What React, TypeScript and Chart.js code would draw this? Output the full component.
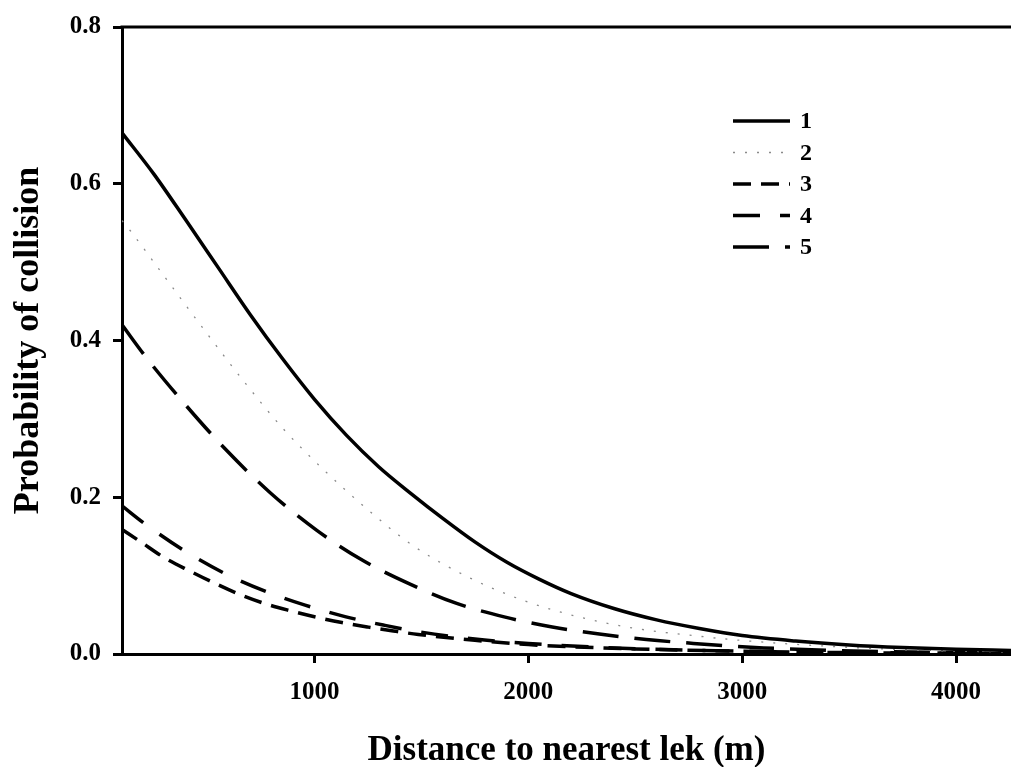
import { useEffect, useRef } from "react";
import { Chart, registerables } from "chart.js";

Chart.register(...registerables);

// Axis ticks
const xTicks = [1000, 2000, 3000, 4000];
const yTicks = [0, 0.2, 0.4, 0.6, 0.8];
const xMin = 100;
const xMax = 4257;

// Series labels
const seriesLabels = ["1", "2", "3", "4", "5"];

// Curve 1 (solid)
const dist1 = [100, 250, 400, 550, 700, 850, 1000, 1150, 1300, 1450, 1600, 1750, 1900, 2050, 2200, 2400, 2600, 2800, 3000, 3250, 3500, 3750, 4000, 4257];
const prob1 = [0.665, 0.612, 0.553, 0.493, 0.433, 0.377, 0.325, 0.279, 0.239, 0.205, 0.173, 0.143, 0.117, 0.0955, 0.077, 0.058, 0.0435, 0.0325, 0.0235, 0.0165, 0.0115, 0.0082, 0.006, 0.0045];

// Curve 2 (dotted)
const dist2 = [100, 139, 292, 486, 684, 855, 1047, 1252, 1460, 1719, 1987, 2245, 2513, 2772, 2929, 3184, 3449, 3700, 4000, 4257];
const prob2 = [0.553, 0.54, 0.484, 0.413, 0.343, 0.287, 0.234, 0.1835, 0.1384, 0.0981, 0.0674, 0.0467, 0.0321, 0.0235, 0.019, 0.0135, 0.0092, 0.006, 0.0038, 0.0025];

// Curve 3 (short dash)
const dist3 = [100, 186, 295, 419, 536, 653, 770, 886, 1011, 1128, 1252, 1369, 1486, 1750, 2000, 2500, 3000, 3500, 4000, 4257];
const prob3 = [0.159, 0.1434, 0.1234, 0.1056, 0.09, 0.0757, 0.0641, 0.0552, 0.0468, 0.0401, 0.0343, 0.0294, 0.0249, 0.0175, 0.012, 0.0065, 0.0035, 0.0018, 0.0009, 0.0007];

// Curve 4 (dash)
const dist4 = [100, 209, 396, 583, 769, 956, 1143, 1330, 1486, 1750, 2000, 2500, 3000, 3500, 4000, 4257];
const prob4 = [0.189, 0.1657, 0.131, 0.1024, 0.0802, 0.0624, 0.0477, 0.0365, 0.0285, 0.019, 0.0135, 0.0068, 0.0036, 0.0019, 0.001, 0.0007];

// Curve 5 (long dash)
const dist5 = [100, 217, 388, 583, 793, 1011, 1229, 1447, 1665, 1892, 2112, 2332, 2552, 2772, 2952, 3100, 3400, 3800, 4257];
const prob5 = [0.42, 0.377, 0.3207, 0.2615, 0.2058, 0.1577, 0.1189, 0.0891, 0.0645, 0.047, 0.0345, 0.0255, 0.0185, 0.0135, 0.01, 0.0078, 0.0048, 0.0025, 0.0012];

const FONT = '"Liberation Serif", "Times New Roman", serif';

const toPoints = (xs: number[], ys: number[]) => xs.map((x, i) => ({ x, y: ys[i] }));

const lineStyles = [
  { color: "#000", width: 3.5, dash: [] as number[] },
  { color: "#8a8a8a", width: 1.3, dash: [2, 10] },
  { color: "#000", width: 3.5, dash: [18, 10] },
  { color: "#000", width: 3.5, dash: [27, 20] },
  { color: "#000", width: 3.5, dash: [36, 16] },
];

// Legend drawn inside the plot, upper right
const lineLegend = {
  id: "lineLegend",
  afterDatasetsDraw(chart: any) {
    const ctx = chart.ctx;
    ctx.save();
    chart.data.datasets.forEach((ds: any, i: number) => {
      const y = 121 + i * 31.5;
      ctx.beginPath();
      ctx.setLineDash(ds.borderDash || []);
      ctx.lineWidth = ds.borderWidth;
      ctx.strokeStyle = ds.borderColor;
      ctx.moveTo(733, y);
      ctx.lineTo(790, y);
      ctx.stroke();
      ctx.setLineDash([]);
      ctx.fillStyle = "#000";
      ctx.font = `bold 24px ${FONT}`;
      ctx.textBaseline = "middle";
      ctx.textAlign = "left";
      ctx.fillText(ds.label, 800, y + 1);
    });
    ctx.restore();
  },
};

// Frame line along the top of the plot
const topFrame = {
  id: "topFrame",
  afterDraw(chart: any) {
    const { ctx, chartArea } = chart;
    ctx.save();
    ctx.beginPath();
    ctx.lineWidth = 3;
    ctx.strokeStyle = "#000";
    ctx.moveTo(chartArea.left - 1.5, chartArea.top);
    ctx.lineTo(chartArea.right, chartArea.top);
    ctx.stroke();
    ctx.restore();
  },
};

export default function App() {
  const ref = useRef<HTMLCanvasElement | null>(null);

  useEffect(() => {
    if (!ref.current) return;
    const series = [
      [dist1, prob1],
      [dist2, prob2],
      [dist3, prob3],
      [dist4, prob4],
      [dist5, prob5],
    ];
    const chart = new Chart(ref.current, {
      type: "line",
      data: {
        datasets: series.map(([xs, ys], i) => ({
          label: seriesLabels[i],
          data: toPoints(xs, ys),
          borderColor: lineStyles[i].color,
          borderWidth: lineStyles[i].width,
          borderDash: lineStyles[i].dash,
          pointRadius: 0,
          fill: false,
          cubicInterpolationMode: "monotone" as const,
        })),
      },
      options: {
        animation: false,
        responsive: false,
        devicePixelRatio: 1,
        layout: { padding: { top: 23, right: 0, bottom: 0, left: 0 } },
        plugins: {
          legend: { display: false },
          tooltip: { enabled: false },
          title: {
            display: true,
            position: "bottom",
            fullSize: false,
            text: "Distance to nearest lek (m)",
            color: "#000",
            font: { family: FONT, size: 35, weight: "bold", lineHeight: 0.9 },
            padding: 0,
          },
        },
        scales: {
          x: {
            type: "linear",
            min: xMin,
            max: xMax,
            afterBuildTicks: (s: any) => {
              s.ticks = xTicks.map((v) => ({ value: v }));
            },
            afterFit: (s: any) => {
              s.height = 81.5;
            },
            ticks: {
              color: "#000",
              font: { family: FONT, size: 25, weight: "bold" },
              padding: 15,
              maxRotation: 0,
              autoSkip: false,
              callback: (v: any) => String(v),
            },
            grid: {
              drawOnChartArea: false,
              drawTicks: true,
              tickLength: 9,
              tickWidth: 3,
              tickColor: "#000",
              color: "#000",
            },
            border: { display: true, color: "#000", width: 3 },
          },
          y: {
            type: "linear",
            min: 0,
            max: 0.8,
            afterBuildTicks: (s: any) => {
              s.ticks = yTicks.map((v) => ({ value: v }));
            },
            afterFit: (s: any) => {
              s.width = 122;
            },
            ticks: {
              color: "#000",
              font: { family: FONT, size: 25, weight: "bold" },
              padding: 12,
              callback: (v: any) => Number(v).toFixed(1),
            },
            grid: {
              drawOnChartArea: false,
              drawTicks: true,
              tickLength: 9,
              tickWidth: 3,
              tickColor: "#000",
              color: "#000",
            },
            border: { display: true, color: "#000", width: 3 },
            title: {
              display: true,
              text: "Probability of collision",
              color: "#000",
              font: { family: FONT, size: 36, weight: "bold", lineHeight: 1.2 },
              padding: { top: 7, bottom: 0 },
            },
          },
        },
      },
      plugins: [lineLegend, topFrame],
    });
    return () => chart.destroy();
  }, []);

  return (
    <div style={{ position: "absolute", left: 0, top: 0, width: 1011, height: 767, background: "#fff" }}>
      <canvas ref={ref} width={1011} height={767} />
    </div>
  );
}
